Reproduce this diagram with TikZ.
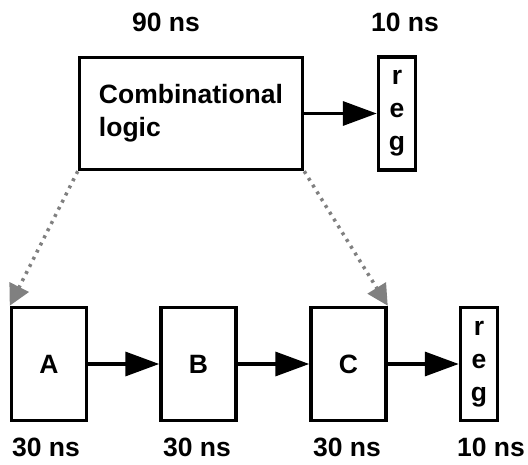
\documentclass[tikz,border=0pt]{standalone}
\usepackage{fontspec}
\setmainfont{Liberation Sans}
\usetikzlibrary{arrows.meta, positioning}

\begin{document}
\begin{tikzpicture}[x=1pt, y=-1pt,
        every node/.style={font=\fontsize{26.5}{33}\selectfont\bfseries, inner sep=0pt},
        box/.style={draw, line width=3.5pt, minimum width=75pt, minimum height=113pt},
        regbox/.style={draw, line width=3.5pt, minimum width=37pt, minimum height=113pt, align=center},
        flow/.style={line width=3.5pt, -{Triangle[length=34pt, width=24pt]}},
        split/.style={gray, line width=3.5pt, dash pattern=on 3pt off 5pt,
                      -{Triangle[length=21pt, width=21pt]}}
    ]
        \useasboundingbox (0,0) rectangle (528,465);

        % Ungepipelinede versie
        \node[box, minimum width=223pt, minimum height=112pt, align=left] (comb) at (191,113.5) {Combinational\\logic};
        \node[regbox] (regtop) at (397,113.5) {r\\e\\g};
        \node (tcomb) at (166,22) {90 ns};
        \node (tregtop) at (405,22) {10 ns};

        % Gepipelinede versie
        \node[box] (blockA) at (49,364) {A};
        \node[box] (blockB) at (198.5,364) {B};
        \node[box] (blockC) at (348.5,364) {C};
        \node[regbox] (regbot) at (479,364) {r\\e\\g};
        \node (tA) at (46,447) {30 ns};
        \node (tB) at (197,447) {30 ns};
        \node (tC) at (347,447) {30 ns};
        \node (tregbot) at (491,447) {10 ns};

        % Verbindingen
        \draw[flow] (comb.east) -- (regtop.west);
        \draw[flow] (blockA.east) -- (blockB.west);
        \draw[flow] (blockB.east) -- (blockC.west);
        \draw[flow] (blockC.east) -- (regbot.west);
        \draw[split] (comb.south west) -- (blockA.north west);
        \draw[split] (comb.south east) -- (blockC.north east);
    \end{tikzpicture}
\end{document}
